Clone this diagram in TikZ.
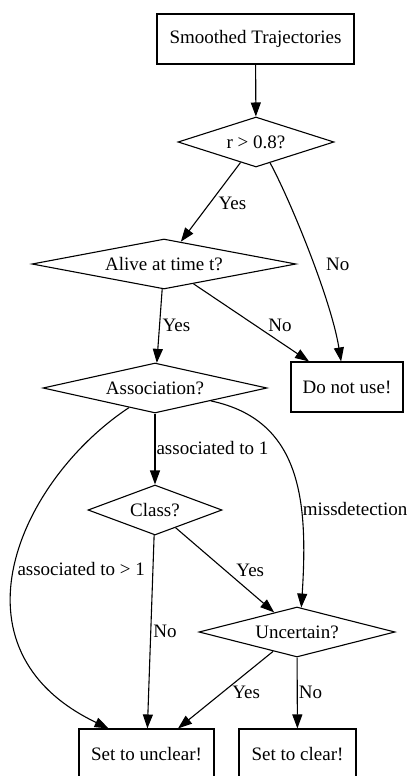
\documentclass[tikz,border=0pt]{standalone}
\usepackage{fontspec}
\setmainfont{Liberation Serif}
\usetikzlibrary{shapes.geometric,arrows.meta}
\begin{document}
\begin{tikzpicture}[x=1pt,y=1pt,
  every node/.style={font=\rmfamily\fontsize{19}{22}\selectfont},
  box/.style={draw, rectangle, line width=1.1pt, minimum height=50pt, inner sep=0pt},
  dia/.style={draw, diamond, line width=1.1pt, minimum height=50pt, inner sep=0.5pt},
  conn/.style={line width=1.1pt, -{Triangle[length=14pt,width=10pt]}},
  lbl/.style={inner sep=0pt, anchor=west}]
\useasboundingbox (0,0) rectangle (409,-776);
\fill[white] (0,0) rectangle (409,-776);
\clip (0,0) rectangle (409,-776);
\node[box, minimum width=197pt] (st) at (255.5,-39) {Smoothed Trajectories};
\node[dia, minimum width=156pt, shape aspect=3.12] (r) at (256,-142) {r > 0.8?};
\node[dia, minimum width=264pt, shape aspect=5.28] (alive) at (164,-264) {Alive at time t?};
\node[dia, minimum width=224pt, shape aspect=4.48] (assoc) at (155,-388) {Association?};
\node[box, minimum width=112pt] (dnu) at (347,-387) {Do not use!};
\node[dia, minimum width=134pt, shape aspect=2.68] (class) at (155,-510) {Class?};
\node[dia, minimum width=196pt, shape aspect=3.92] (unc) at (297,-632) {Uncertain?};
\node[box, minimum width=135pt] (unclear) at (146.5,-754) {Set to unclear!};
\node[box, minimum width=117pt] (clear) at (297.5,-754) {Set to clear!};
\draw[conn] (st) -- (r);
\draw[conn] (r) -- node[lbl,pos=.51,xshift=8pt] (l1) {Yes} (alive);
\draw[conn] (r.-56) .. controls +(20,-37) and +(-10,62) .. (dnu.103) node[lbl,pos=.55,xshift=12pt] (l2) {No};
\draw[conn] (alive) -- node[lbl,pos=.49,xshift=2.5pt] (l3) {Yes} (assoc);
\draw[conn] (alive) -- node[lbl,pos=.53,xshift=13pt] (l4) {No} (dnu);
\draw[conn] (assoc) -- node[lbl,pos=.49,xshift=1pt] (l5) {associated to 1} (class);
\draw[conn] (assoc.-13) .. controls +(90,-19) and +(7,108) .. (unc.80) node[lbl,pos=.66,xshift=1.5pt] (l6) {missdetection};
\draw[conn] (assoc.217) .. controls +(-110,-73) and +(-165,79) .. (unclear.146) node[lbl,pos=.51,xshift=2pt] (l7) {associated to > 1};
\draw[conn] (class) -- node[lbl,pos=.5,xshift=2pt] (l8) {No} (unclear);
\draw[conn] (class) -- node[lbl,pos=.5,xshift=11pt] (l9) {Yes} (unc);
\draw[conn] (unc) -- node[lbl,pos=.53,xshift=9pt] (l10) {Yes} (unclear);
\draw[conn] (unc) -- node[lbl,pos=.49,xshift=1pt] (l11) {No} (clear);
\end{tikzpicture}
\end{document}
